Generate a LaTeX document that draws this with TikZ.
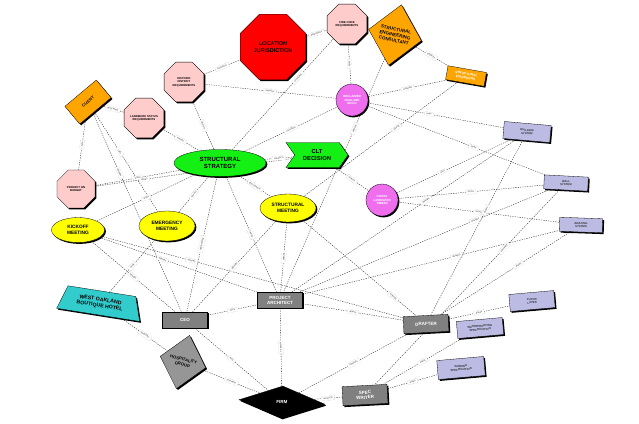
\documentclass[tikz,border=0pt]{standalone}
\usepackage{fontspec}
\setmainfont{Liberation Sans}
\usetikzlibrary{shapes.geometric,shapes.symbols,shadows,backgrounds}
\definecolor{cred}{RGB}{255,0,0}
\definecolor{cpink}{RGB}{255,204,204}
\definecolor{corange}{RGB}{255,165,0}
\definecolor{cmag}{RGB}{238,110,238}
\definecolor{cgreen}{RGB}{20,240,20}
\definecolor{cyellow}{RGB}{255,255,0}
\definecolor{ccyan}{RGB}{51,204,204}
\definecolor{cgray}{RGB}{128,128,128}
\definecolor{cgrayl}{RGB}{150,150,150}
\definecolor{clav}{RGB}{187,187,228}
\tikzset{
  base/.style={draw=black, line width=0.3pt, align=center, inner sep=0pt,
    font=\bfseries\fontsize{4.5}{5}\selectfont,
    drop shadow={shadow xshift=1.4pt, shadow yshift=-1.4pt, fill=black, opacity=1}},
  oct/.style={base, regular polygon, regular polygon sides=8, fill=cpink,
    font=\bfseries\fontsize{2.8}{3.4}\selectfont},
  grayrect/.style={base, rectangle, fill=cgray, text=white, minimum width=45, minimum height=16},
  lavrect/.style={base, rectangle, fill=clav, text=black!80, font=\bfseries\fontsize{2.8}{3.4}\selectfont},
  yell/.style={base, ellipse, fill=cyellow, font=\bfseries\fontsize{4.8}{5.6}\selectfont},
  link/.style={draw=black!85, line width=0.35pt, dash pattern=on 1.3pt off 1.1pt},
  lab/.style={draw=black!45, densely dotted, line width=0.25pt, fill=white, sloped,
    inner xsep=2pt, inner ysep=1.3pt, font=\fontsize{2.4}{2.8}\selectfont, text=black!80}
}
\begin{document}
\begin{tikzpicture}[x=1pt,y=-1pt]
\useasboundingbox (0,0) rectangle (639,423);

% ---------- nodes ----------
\node[oct, fill=cred, minimum size=71, font=\bfseries\fontsize{5.5}{6.6}\selectfont] (locj) at (273,47) {LOCATION\\JURISDICTION};
\node[oct, minimum size=43] (fire) at (347,24) {FIRE CODE\\REQUIREMENTS};
\node[base, diamond, fill=corange, rotate=-12, minimum width=54, minimum height=62, font=\bfseries\fontsize{4.5}{5.6}\selectfont] (secons) at (395,35) {STRUCTURAL\\ENGINEERING\\CONSULTANT};
\node[base, rectangle, fill=corange, rotate=-10, minimum width=39, minimum height=14, text=white, font=\bfseries\fontsize{3.3}{3.9}\selectfont] (seng) at (466,76) {STRUCTURAL\\ENGINEERS};
\node[base, circle, fill=cmag, minimum size=32, text=white, font=\bfseries\fontsize{3}{3.6}\selectfont] (brick) at (352,100) {RECLAIMED\\OAKLAND\\BRICK};
\node[base, circle, fill=cmag, minimum size=32, text=white, font=\bfseries\fontsize{3}{3.6}\selectfont] (clt) at (382,200) {CROSS\\LAMINATED\\TIMBER};
\node[oct, minimum size=43] (histd) at (184,82) {HISTORIC\\DISTRICT\\REQUIREMENTS};
\node[oct, minimum size=43] (histl) at (144,118) {LANDMARK STATUS\\REQUIREMENTS};
\node[base, rectangle, fill=corange, rotate=40, minimum width=41, minimum height=23, font=\bfseries\fontsize{4}{4.5}\selectfont] (client) at (88,102) {CLIENT};
\node[oct, minimum size=41] (budget) at (76,189) {PROJECT ON\\BUDGET};
\node[base, ellipse, fill=cgreen, minimum width=92, minimum height=27, font=\bfseries\fontsize{6}{7}\selectfont] (strat) at (220,163) {STRUCTURAL\\STRATEGY};
\node[base, signal, signal from=west, signal to=east, signal pointer angle=110, fill=cgreen, minimum width=62, minimum height=25, font=\bfseries\fontsize{5.8}{6.8}\selectfont] (cltd) at (317,155) {CLT\\DECISION};
\node[yell, minimum width=56, minimum height=28] (smeet) at (288,208) {STRUCTURAL\\MEETING};
\node[yell, minimum width=53, minimum height=25] (kick) at (78,230) {KICKOFF\\MEETING};
\node[yell, minimum width=56, minimum height=30] (emerg) at (167,226) {EMERGENCY\\MEETING};
\node[base, trapezium, trapezium left angle=54, trapezium right angle=54, trapezium stretches body, fill=ccyan, rotate=-9, minimum width=84, minimum height=24, font=\bfseries\fontsize{5.2}{6}\selectfont] (hotel) at (100,303) {WEST OAKLAND\\BOUTIQUE HOTEL};
\node[grayrect] (ceo) at (185,320) {CEO};
\node[grayrect] (arch) at (280,300) {PROJECT\\ARCHITECT};
\node[base, diamond, fill=cgrayl, rotate=-14, minimum width=47, minimum height=55, font=\bfseries\fontsize{4.2}{5.2}\selectfont] (hosp) at (183,362) {HOSPITALITY\\GROUP};
\node[base, diamond, fill=black, text=white, rotate=-3, minimum width=86, minimum height=32, drop shadow={opacity=0}] (firm) at (282,402) {FIRM};
\node[grayrect, rotate=3, minimum height=17] (drafter) at (426,324) {DRAFTER};
\node[grayrect, rotate=3, minimum height=19] (spec) at (365,395) {SPEC\\WRITER};
\node[lavrect, rotate=-5, minimum width=47, minimum height=17] (lav1) at (527,132) {BUILDING\\SYSTEM};
\node[lavrect, rotate=-3, minimum width=44, minimum height=14] (lav2) at (566,183) {WALL\\SYSTEM};
\node[lavrect, rotate=-2, minimum width=43, minimum height=14] (lav3) at (581,225) {BRACING\\SYSTEM};
\node[lavrect, rotate=5, minimum width=45, minimum height=17] (lav4) at (532,301) {FLOOR\\LAYER};
\node[lavrect, rotate=5, minimum width=46, minimum height=17] (lav5) at (480,328) {WATERPROOFING\\SPECIFICATION};
\node[lavrect, rotate=5, minimum width=47, minimum height=19] (lav6) at (461,368) {SANDING\\SPECIFICATION};

% ---------- connectors ----------
\begin{scope}[on background layer]
\path[link] (histd) -- node[lab]{located in} (locj);
\path[link] (locj) -- node[lab]{determines} (fire);
\path[link] (histd) -- node[lab]{requires} (brick);
\path[link] (fire) -- node[lab]{limits} (brick);
\path[link] (secons) -- node[lab]{employs} (seng);
\path[link] (histd) -- node[lab]{informs} (strat);
\path[link] (fire) -- node[lab, pos=0.35]{constrains} (strat);
\path[link] (secons) -- node[lab, pos=0.3]{advises} (arch);
\path[link] (client) -- node[lab]{must meet} (histl);
\path[link] (client) -- node[lab]{sets} (budget);
\path[link] (client) -- node[lab, pos=0.3]{includes} (ceo);
\path[link] (client) -- node[lab, pos=0.4]{calls} (emerg);
\path[link] (histl) -- node[lab]{informs} (strat);
\path[link] (budget) -- node[lab]{limits} (strat);
\path[link] (budget) -- node[lab, pos=0.25]{drives} (cltd);
\path[link] (kick) -- node[lab]{starts} (strat);
\path[link] (kick) -- node[lab]{attends} (ceo);
\path[link] (kick) -- node[lab, pos=0.4]{attends} (arch);
\path[link] (kick) -- node[lab, pos=0.3]{attends} (drafter);
\path[link] (emerg) -- node[lab]{revisits} (strat);
\path[link] (strat) -- node[lab]{approved by} (ceo);
\path[link] (strat) -- node[lab]{led by} (arch);
\path[link] (strat) -- node[lab]{discussed in} (smeet);
\path[link] (strat) -- node[lab]{results in} (cltd);
\path[link] (strat) -- node[lab]{considers} (brick);
\path[link] (smeet) -- node[lab]{attends} (ceo);
\path[link] (smeet) -- node[lab]{attends} (arch);
\path[link] (smeet) -- node[lab, pos=0.8]{attends} (drafter);
\path[link] (cltd) -- node[lab]{selects} (clt);
\path[link] (clt) -- node[lab, pos=0.4]{uses} (lav1);
\path[link] (clt) -- node[lab]{forms} (lav2);
\path[link] (clt) -- node[lab]{forms} (lav3);
\path[link] (brick) -- node[lab, pos=0.45]{uses} (lav1);
\path[link] (brick) -- node[lab, pos=0.6]{forms} (lav2);
\path[link] (seng) -- node[lab]{evaluate} (brick);
\path[link] (seng) -- node[lab, pos=0.4]{attend} (smeet);
\path[link] (arch) -- node[lab, pos=0.6]{designs} (lav1);
\path[link] (arch) -- node[lab, pos=0.7]{designs} (lav2);
\path[link] (arch) -- node[lab, pos=0.6]{designs} (lav3);
\path[link] (arch) -- node[lab]{directs} (drafter);
\path[link] (ceo) -- node[lab]{hires} (arch);
\path[link] (ceo) -- node[lab]{runs} (firm);
\path[link] (arch) -- node[lab]{works at} (firm);
\path[link] (hosp) -- node[lab]{contracts} (firm);
\path[link] (hotel) -- node[lab]{owned by} (hosp);
\path[link] (hotel) -- node[lab]{hosts} (emerg);
\path[link] (firm) -- node[lab]{employs} (drafter);
\path[link] (spec) -- node[lab]{works at} (firm);
\path[link] (spec) -- node[lab]{writes} (lav5);
\path[link] (spec) -- node[lab]{writes} (lav6);
\path[link] (drafter) -- node[lab]{draws} (lav4);
\path[link] (drafter) -- node[lab, pos=0.6]{draws} (lav1);
\path[link] (drafter) -- node[lab, pos=0.6]{draws} (lav3);
\path[link] (lav2) -- node[lab, pos=0.3]{specified} (spec);
\end{scope}
\end{tikzpicture}
\end{document}
